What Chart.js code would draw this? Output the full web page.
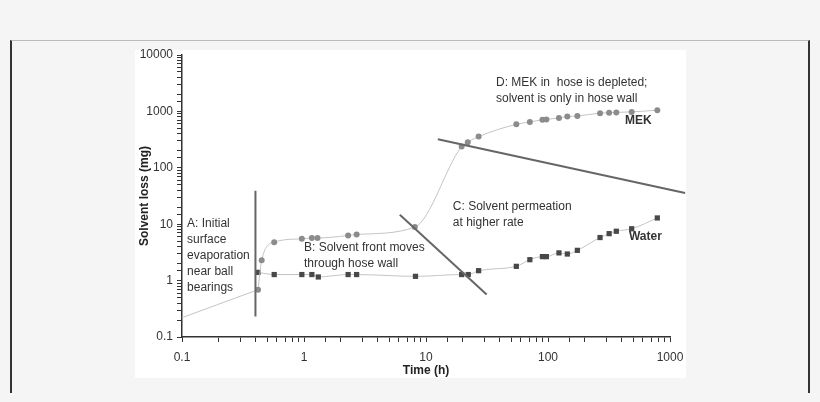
<!DOCTYPE html>
<html>
<head>
<meta charset="utf-8">
<script src="https://cdn.jsdelivr.net/npm/chart.js@4"></script>
<style>
  body { margin:0; background:#f5f5f5; width:820px; height:402px; overflow:hidden; font-family:"Liberation Sans", Arial, sans-serif; }
  #frame { position:absolute; left:10px; top:40px; width:800px; height:353px; box-sizing:border-box;
           border-top:1px solid #bbb; border-left:2px solid #333; border-right:2px solid #333; }
  #box { position:absolute; left:135px; top:50px; width:551px; height:328px; background:#fff; }
  #chart { position:absolute; left:135px; top:40px; display:block; }
</style>
</head>
<body>
<div id="frame"></div>
<div id="box"></div>
<canvas id="chart" width="551" height="338"></canvas>
<script>
// MEK series (circles); first segment is a straight lead-in from 0.1 h
const mekLeadTime = [0.1, 0.42];
const mekLeadLoss = [0.22, 0.69];
const mekTime = [0.42, 0.45, 0.57, 0.96, 1.16, 1.29, 2.3, 2.7, 8.1, 19.6, 22, 27, 55, 71, 90, 97, 123, 144, 174, 267, 317, 363, 485, 787];
const mekLoss = [0.69, 2.3, 4.8, 5.5, 5.7, 5.7, 6.3, 6.6, 8.9, 238, 285, 358, 590, 650, 710, 720, 767, 810, 830, 930, 950, 960, 980, 1050];

// Water series (squares)
const waterTime = [0.42, 0.57, 0.96, 1.16, 1.31, 2.3, 2.7, 8.2, 19.6, 22.2, 27, 55, 71, 90, 97, 123, 144, 174, 267, 317, 363, 485, 787];
const waterLoss = [1.4, 1.28, 1.28, 1.28, 1.16, 1.28, 1.28, 1.19, 1.28, 1.28, 1.5, 1.79, 2.35, 2.66, 2.66, 3.1, 2.96, 3.44, 5.8, 6.8, 7.5, 8.3, 12.9];

// phase boundary lines
const lineAx = [0.4, 0.4],   lineAy = [39, 0.23];
const lineBx = [6.1, 31.4],  lineBy = [14.7, 0.565];
const lineDx = [12.5, 1330], lineDy = [322, 35.7];

const xTicks = [0.1, 1, 10, 100, 1000];
const yTicks = [0.1, 1, 10, 100, 1000, 10000];

// annotation text: [x value, y value, lines, bold]
const notes = [
  [0.11, 10.2, ["A: Initial", "surface", "evaporation", "near ball", "bearings"], false],
  [1.0, 3.84, ["B: Solvent front moves", "through hose wall"], false],
  [16.6, 20.4, ["C: Solvent permeation", "at higher rate"], false],
  [37.5, 3190, ["D: MEK in  hose is depleted;", "solvent is only in hose wall"], false],
  [428, 679, ["MEK"], true],
  [461, 6.0, ["Water"], true]
];

function pts(xs, ys){ return xs.map((x, i) => ({x:x, y:ys[i]})); }

function decadeLabel(v, list){
  return list.some(t => Math.abs(t - v) < 1e-9 * t) ? String(Number(v.toPrecision(1))) : "";
}

Chart.defaults.font.family = '"Liberation Sans", Arial, sans-serif';
Chart.defaults.font.size = 12;
Chart.defaults.color = "#333";

const notesPlugin = {
  id: "notes",
  afterDatasetsDraw(chart){
    const ctx = chart.ctx, sx = chart.scales.x, sy = chart.scales.y;
    ctx.save();
    ctx.fillStyle = "#333";
    ctx.textAlign = "left";
    ctx.textBaseline = "middle";
    notes.forEach(n => {
      ctx.font = (n[3] ? "bold " : "") + '12px "Liberation Sans", Arial, sans-serif';
      const px = sx.getPixelForValue(n[0]);
      const py = sy.getPixelForValue(n[1]);
      n[2].forEach((t, i) => ctx.fillText(t, px, py + i * 16));
    });
    ctx.restore();
  }
};

const lineStyle = { showLine:true, borderColor:"#666", borderWidth:2, pointRadius:0, fill:false };

new Chart(document.getElementById("chart"), {
  type: "scatter",
  data: {
    datasets: [
      Object.assign({ label:"A", data: pts(lineAx, lineAy) }, lineStyle),
      Object.assign({ label:"B", data: pts(lineBx, lineBy) }, lineStyle),
      Object.assign({ label:"D", data: pts(lineDx, lineDy), clip:false }, lineStyle),
      {
        label:"MEK", data: pts(mekTime, mekLoss), showLine:true,
        borderColor:"#c4c4c4", borderWidth:1, cubicInterpolationMode:"monotone",
        pointStyle:"circle", pointRadius:3,
        pointBackgroundColor:"#8c8c8c", pointBorderColor:"#8c8c8c", pointBorderWidth:0
      },
      {
        label:"MEK lead", data: pts(mekLeadTime, mekLeadLoss), showLine:true,
        borderColor:"#c4c4c4", borderWidth:1, pointRadius:0
      },
      {
        label:"Water", data: pts(waterTime, waterLoss), showLine:true,
        borderColor:"#c4c4c4", borderWidth:1, cubicInterpolationMode:"monotone",
        pointStyle:"rect", pointRadius:3.7,
        pointBackgroundColor:"#484848", pointBorderColor:"#484848", pointBorderWidth:0
      }
    ]
  },
  options: {
    responsive:false,
    animation:false,
    layout:{ padding:{ left:0, top:15, right:16, bottom:0 } },
    plugins:{ legend:{ display:false }, tooltip:{ enabled:false } },
    scales:{
      x:{
        type:"logarithmic", min:0.1, max:1000,
        afterFit: s => { s.height = 41; s.paddingLeft = 0; s.paddingRight = 0; },
        grid:{ drawOnChartArea:false, drawTicks:true, tickLength:5, color:"#333" },
        border:{ color:"#333", width:1.5 },
        ticks:{ autoSkip:false, maxRotation:0, padding:8, color:"#333",
          callback: v => decadeLabel(v, xTicks) },
        title:{ display:true, text:"Time (h)", font:{ weight:"bold", size:12 }, color:"#222", padding:{ top:0, bottom:0 } }
      },
      y:{
        type:"logarithmic", min:0.1, max:10000,
        afterFit: s => { s.width = 47; s.paddingTop = 0; s.paddingBottom = 0; },
        grid:{ drawOnChartArea:false, drawTicks:true, tickLength:5, color:"#333" },
        border:{ color:"#333", width:1.5 },
        ticks:{ autoSkip:false, padding:4, color:"#333",
          callback: v => decadeLabel(v, yTicks) },
        title:{ display:true, text:"Solvent loss (mg)", font:{ weight:"bold", size:12 }, color:"#222", padding:{ top:2, bottom:0 } }
      }
    }
  },
  plugins:[notesPlugin]
});
</script>
</body>
</html>
